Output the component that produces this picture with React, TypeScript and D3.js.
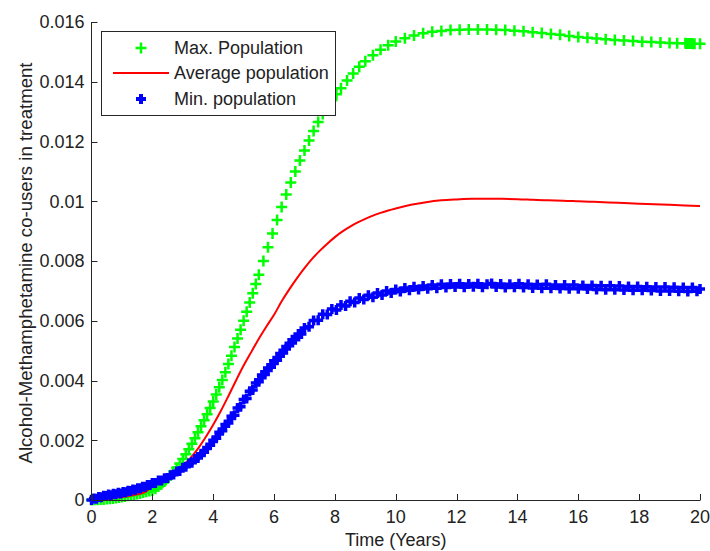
import React from 'react';
import * as d3 from 'd3';

const X_TICKS = [0, 2, 4, 6, 8, 10, 12, 14, 16, 18, 20];
const Y_TICKS = [0, 0.002, 0.004, 0.006, 0.008, 0.01, 0.012, 0.014, 0.016];
const X_LABEL = 'Time (Years)';
const Y_LABEL = 'Alcohol-Methamphetamine co-users in treatment';
const LEGEND = ['Max. Population', 'Average population', 'Min. population'];

const MAX_T = [0, 0.1, 0.2, 0.3, 0.4, 0.5, 0.6, 0.7, 0.8, 0.9, 1.0, 1.1, 1.2, 1.3, 1.4, 1.5, 1.6, 1.7, 1.8, 1.9,
  2.0, 2.1, 2.2, 2.3, 2.4, 2.5, 2.6, 2.7, 2.8, 2.9, 3.0, 3.1, 3.2, 3.3, 3.4, 3.5, 3.6, 3.7, 3.8, 3.9,
  4.0, 4.1, 4.2, 4.3, 4.4, 4.5, 4.6, 4.7, 4.8, 4.9, 5.0, 5.1, 5.2, 5.3, 5.4, 5.5, 5.65, 5.8, 5.95, 6.1,
  6.25, 6.4, 6.55, 6.7, 6.85, 7.0, 7.15, 7.3, 7.45, 7.6, 7.75, 7.9, 8.05, 8.2, 8.4, 8.6, 8.8, 9.0, 9.25, 9.5,
  9.75, 10.0, 10.3, 10.6, 10.9, 11.2, 11.5, 11.8, 12.1, 12.4, 12.7, 13.0, 13.3, 13.6, 13.9, 14.2, 14.5, 14.8,
  15.1, 15.4, 15.7, 16.0, 16.3, 16.6, 16.9, 17.2, 17.5, 17.8, 18.1, 18.4, 18.7, 19.0, 19.25,
  19.52, 19.55, 19.58, 19.61, 19.64, 19.67, 19.7, 19.73, 19.76, 19.79, 19.82, 20.0];
const MAX_V = [0, 0.000005, 0.00001, 0.000015, 0.00002, 0.00003, 0.00004, 0.00005, 0.00007, 0.00008, 0.0001, 0.00012, 0.00014, 0.00016, 0.00018, 0.0002, 0.00022, 0.00025, 0.00028, 0.0003,
  0.00032, 0.00038, 0.00045, 0.00053, 0.00062, 0.00072, 0.00083, 0.00095, 0.00108, 0.00122, 0.00137, 0.00153, 0.0017, 0.00188, 0.00207, 0.00227, 0.00247, 0.00267, 0.00287, 0.00308,
  0.0033, 0.00353, 0.00377, 0.00402, 0.00428, 0.00455, 0.00483, 0.00512, 0.00541, 0.0057, 0.006, 0.0063, 0.00661, 0.00692, 0.00723, 0.00754, 0.008, 0.00846, 0.00892, 0.00937,
  0.00981, 0.01023, 0.01063, 0.011, 0.01136, 0.0117, 0.01203, 0.01235, 0.01265, 0.01292, 0.01316, 0.01338, 0.01358, 0.01378, 0.01404, 0.01428, 0.0145, 0.01469, 0.01489, 0.01507,
  0.01522, 0.01535, 0.01546, 0.01555, 0.01562, 0.01567, 0.0157, 0.01573, 0.01574, 0.01575, 0.01575, 0.01575, 0.01574, 0.01573, 0.01571, 0.01569, 0.01566, 0.01563,
  0.0156, 0.01557, 0.01553, 0.0155, 0.01547, 0.01545, 0.01542, 0.0154, 0.01538, 0.01536, 0.01534, 0.01533, 0.01531, 0.0153, 0.01529,
  0.01529, 0.01528, 0.01528, 0.01528, 0.01528, 0.01528, 0.01528, 0.01528, 0.01527, 0.01527, 0.01527, 0.01527];

const AVG_T = [0, 0.25, 0.5, 0.75, 1.0, 1.25, 1.5, 1.75, 2.0, 2.25, 2.5, 2.75, 3.0, 3.25, 3.5, 3.75, 4.0, 4.25, 4.5, 4.75,
  5.0, 5.25, 5.5, 5.75, 6.0, 6.25, 6.5, 6.75, 7.0, 7.25, 7.5, 7.75, 8.0, 8.25, 8.5, 8.75, 9.0, 9.25, 9.5, 9.75,
  10.0, 10.5, 11.0, 11.5, 12.0, 12.5, 13.0, 13.5, 14.0, 14.5, 15.0, 15.5, 16.0, 16.5, 17.0, 17.5, 18.0, 18.5, 19.0, 19.5, 20.0];
const AVG_V = [0, 0.00002, 0.00004, 0.00007, 0.0001, 0.00014, 0.00019, 0.00026, 0.00045, 0.00058, 0.00073, 0.0009, 0.00115, 0.0014, 0.00172, 0.0021, 0.00252, 0.00298, 0.00348, 0.004,
  0.0045, 0.00495, 0.0054, 0.00581, 0.0062, 0.00665, 0.00705, 0.00742, 0.00776, 0.00807, 0.00834, 0.00858, 0.0088, 0.00899, 0.00915, 0.00929, 0.00941, 0.00952, 0.00961, 0.00969,
  0.00976, 0.00988, 0.00997, 0.01003, 0.01006, 0.01008, 0.01008, 0.01008, 0.01007, 0.01005, 0.01003, 0.01002, 0.01, 0.00998, 0.00996, 0.00994, 0.00992, 0.0099, 0.00988, 0.00986, 0.00984];

const MIN_T = [0, 0.08, 0.16, 0.24, 0.32, 0.4, 0.48, 0.56, 0.64, 0.72, 0.8, 0.88, 0.96, 1.04, 1.12, 1.2, 1.28, 1.36, 1.44, 1.52, 1.6, 1.68, 1.76, 1.84, 1.92,
  2.0, 2.1, 2.2, 2.3, 2.4, 2.5, 2.6, 2.7, 2.8, 2.9, 3.0, 3.1, 3.2, 3.3, 3.4, 3.5, 3.6, 3.7, 3.8, 3.9,
  4.0, 4.1, 4.2, 4.3, 4.4, 4.5, 4.6, 4.7, 4.8, 4.9, 5.0, 5.1, 5.2, 5.3, 5.4, 5.5, 5.6, 5.7, 5.8, 5.9,
  6.0, 6.1, 6.2, 6.3, 6.4, 6.5, 6.6, 6.7, 6.8, 6.9, 7.0, 7.15, 7.3, 7.45, 7.6, 7.75, 7.9, 8.05, 8.2, 8.35,
  8.5, 8.65, 8.8, 8.95, 9.1, 9.25, 9.4, 9.55, 9.7, 9.85, 10.0, 10.15, 10.3, 10.45, 10.6, 10.75, 10.9, 11.05, 11.2, 11.35,
  11.5, 11.65, 11.8, 11.95, 12.1, 12.25, 12.4, 12.55, 12.7, 12.85, 13.0, 13.15, 13.3, 13.45, 13.6, 13.75, 13.9, 14.05, 14.2, 14.35,
  14.5, 14.65, 14.8, 14.95, 15.1, 15.25, 15.4, 15.55, 15.7, 15.85, 16.0, 16.15, 16.3, 16.45, 16.6, 16.75, 16.9, 17.05, 17.2, 17.35,
  17.5, 17.65, 17.8, 17.95, 18.1, 18.25, 18.4, 18.55, 18.7, 18.85, 19.0, 19.15, 19.3, 19.45, 19.6, 19.75, 19.9, 20.0];
const MIN_V = [0, 0.00005, 0.00004, 0.0001, 0.00009, 0.00014, 0.00013, 0.00018, 0.00016, 0.00021, 0.00019, 0.00024, 0.00022, 0.00027, 0.00026, 0.00031, 0.0003, 0.00035, 0.00034, 0.00039, 0.00039, 0.00044, 0.00044, 0.0005, 0.0005,
  0.00057, 0.00057, 0.00065, 0.00065, 0.00073, 0.00074, 0.00083, 0.00085, 0.00095, 0.00097, 0.00108, 0.00111, 0.00122, 0.00125, 0.00137, 0.00141, 0.00155, 0.0016, 0.00176, 0.00183,
  0.002, 0.00207, 0.00227, 0.00232, 0.00253, 0.00258, 0.0028, 0.00284, 0.00308, 0.00312, 0.00336, 0.0034, 0.00364, 0.00368, 0.00392, 0.00396, 0.00418, 0.0042, 0.00442, 0.00444,
  0.00466, 0.00468, 0.0049, 0.00492, 0.00514, 0.00516, 0.00536, 0.00536, 0.00556, 0.00556, 0.00576, 0.0058, 0.00601, 0.00602, 0.00622, 0.00621, 0.00639, 0.00636, 0.00653, 0.00649,
  0.00665, 0.00661, 0.00676, 0.00671, 0.00685, 0.00679, 0.00693, 0.00686, 0.007, 0.00693, 0.00705, 0.00698, 0.0071, 0.00702, 0.00714, 0.00705, 0.00716, 0.00707, 0.0072, 0.00709,
  0.00722, 0.00711, 0.00723, 0.00713, 0.00724, 0.00712, 0.00723, 0.00714, 0.00724, 0.00712, 0.00722, 0.00725, 0.00713, 0.00723, 0.00711, 0.00722, 0.00712, 0.00724, 0.00711, 0.00722,
  0.0071, 0.00721, 0.00709, 0.00722, 0.00709, 0.0072, 0.00708, 0.0072, 0.00707, 0.0072, 0.00707, 0.00718, 0.00706, 0.00718, 0.00705, 0.00717, 0.00704, 0.00717, 0.00704, 0.00716,
  0.00703, 0.00715, 0.00702, 0.00715, 0.00702, 0.00714, 0.00701, 0.00713, 0.007, 0.00713, 0.007, 0.00712, 0.00699, 0.00711, 0.00698, 0.00711, 0.00699, 0.00706];

const FONT = '"Liberation Sans", Arial, Helvetica, sans-serif';
const TEXT = '#222';

export default function App() {
  const x = d3.scaleLinear().domain([0, 20]).range([91.5, 700]);
  const y = d3.scaleLinear().domain([0, 0.016]).range([500, 22]);

  const plusPath = (ts: number[], vs: number[], s: number) =>
    ts.map((t, i) => {
      const px = x(t), py = y(vs[i]);
      return `M${px - s},${py}H${px + s}M${px},${py - s}V${py + s}`;
    }).join('');

  const avgLine = d3.line<number>()
    .x((t) => x(t))
    .y((_, i) => y(AVG_V[i]))
    .curve(d3.curveMonotoneX);

  const fmt = (d: number) => (d === 0 ? '0' : String(+d.toFixed(3)));

  const [x0, x1] = x.range();
  const [yb, yt] = y.range();

  const legX = 101.5, legY = 31.5, legW = 234, legH = 84;
  const rows = [48, 73, 99];
  const mx = 141;

  return (
    <svg width={710} height={551} style={{ position: 'absolute', left: 0, top: 0, background: '#fff' }}
      fontFamily={FONT}>
      <rect x={0} y={0} width={710} height={551} fill="#fff" />
      <path d={plusPath(MAX_T, MAX_V, 5.5)} stroke="#00ff00" strokeWidth={2.5} fill="none" />
      <path d={avgLine(AVG_T) || ''} stroke="#ff0000" strokeWidth={2} fill="none" />
      <path d={plusPath(MIN_T, MIN_V, 5)} stroke="#0000ff" strokeWidth={3.5} fill="none" />

      <g stroke="#262626" strokeWidth={1} fill="none">
        <line x1={x0} x2={x0} y1={yt} y2={yb + 0.5} />
        <line x1={x0} x2={x1} y1={yb + 0.5} y2={yb + 0.5} />
        {Y_TICKS.map((d) => (
          <line key={'yt' + d} x1={x0} x2={x0 + 6} y1={Math.round(y(d)) + 0.5} y2={Math.round(y(d)) + 0.5} />
        ))}
        {X_TICKS.map((d) => (
          <line key={'xt' + d} x1={Math.round(x(d)) + 0.5} x2={Math.round(x(d)) + 0.5} y1={yb + 0.5} y2={yb - 6} />
        ))}
      </g>
      <g fill={TEXT} fontSize={18}>
        {Y_TICKS.map((d) => (
          <text key={'yl' + d} x={x0 - 7} y={y(d)} dy="0.36em" textAnchor="end">{fmt(d)}</text>
        ))}
        {X_TICKS.map((d) => (
          <text key={'xl' + d} x={x(d)} y={523} textAnchor="middle">{fmt(d)}</text>
        ))}
        <text x={(x0 + x1) / 2} y={546} textAnchor="middle">{X_LABEL}</text>
        <text transform={`translate(32,${(yt + yb) / 2 + 2}) rotate(-90)`} textAnchor="middle" fontSize={18.6}>{Y_LABEL}</text>
      </g>

      <rect x={legX} y={legY} width={legW} height={legH} fill="#fff" stroke="#262626" strokeWidth={1} />
      <path d={`M${mx - 5.5},${rows[0]}H${mx + 5.5}M${mx},${rows[0] - 5.5}V${rows[0] + 5.5}`} stroke="#00ff00" strokeWidth={2.5} />
      <line x1={113} x2={169} y1={rows[1]} y2={rows[1]} stroke="#ff0000" strokeWidth={2} />
      <path d={`M${mx - 5},${rows[2]}H${mx + 5}M${mx},${rows[2] - 5}V${rows[2] + 5}`} stroke="#0000ff" strokeWidth={4} />
      <g fill={TEXT} fontSize={18}>
        {LEGEND.map((s, i) => (
          <text key={s} x={174} y={rows[i]} dy="0.36em">{s}</text>
        ))}
      </g>
    </svg>
  );
}
